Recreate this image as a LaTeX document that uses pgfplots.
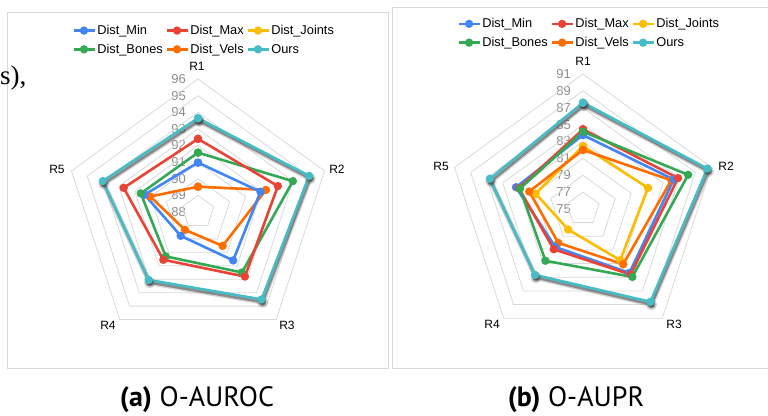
\documentclass[border=0pt]{standalone}
\usepackage{fontspec}
\setmainfont{Liberation Sans}
\newfontfamily\capfont{PT Sans}
\newfontfamily\serfont{Liberation Serif}
\usepackage{pgfplots}
\pgfplotsset{compat=1.18}
\usepackage{pgfplotstable}

\definecolor{cmin}{HTML}{4285F4}
\definecolor{cmax}{HTML}{EA4335}
\definecolor{cjoi}{HTML}{FBBC04}
\definecolor{cbon}{HTML}{34A853}
\definecolor{cvel}{HTML}{FF6D01}
\definecolor{cour}{HTML}{46BDC6}
\definecolor{gridc}{HTML}{D9D9D9}
\definecolor{tickc}{HTML}{8C8C8C}

% O-AUROC (axis 88..96)
\pgfplotstableread{
a    min   max   bones vels  ours
90   90.97 92.40 91.57 89.52 93.64
18   91.95 93.05 94.00 92.30 95.03
-54  91.60 92.80 92.50 90.52 94.50
-126 89.77 91.55 91.30 89.33 93.05
162  91.38 92.70 91.62 91.02 94.02
90   90.97 92.40 91.57 89.52 93.64
}\auroc

% O-AUPR (axis 75..91)
\pgfplotstableread{
a    min   max   joints bones vels  ours
90   83.77 84.44 82.46  84.16 82.00 87.60
18   86.30 86.84 83.10  88.10 86.00 90.50
-54  84.36 84.60 82.50  84.95 83.10 88.60
-126 80.57 80.90 78.00  82.58 79.97 84.66
162  83.35 83.00 80.90  82.85 81.70 86.60
90   83.77 84.44 82.46  84.16 82.00 87.60
}\aupr

\pgfplotstableread{
a    b
90   1
18   1
-54  1
-126 1
162  1
90   1
}\angs

\pgfplotsset{
  radar/.style={hide axis, clip=false, anchor=center},
  ser/.style={#1, line width=2.6pt, mark=*, mark size=2.8pt, mark options={solid,fill=#1}},
  ringl/.style={gridc, line width=0.8pt, forget plot},
  legimg/.style={legend image code/.code={%
      \draw[mark repeat=2, mark phase=2, ##1] plot coordinates {(0pt,0pt) (10.5pt,0pt) (21pt,0pt)};}},
  myleg/.style={legend columns=3, legimg,
     legend style={draw=none, fill=none, inner sep=0pt, font=\fontsize{12.8}{14}\selectfont,
       legend cell align=left, row sep=5pt,
       /tikz/every even column/.append style={column sep=1pt},
       nodes={inner sep=1.5pt}}},
}

\begin{document}
\begin{tikzpicture}[x=1pt,y=1pt]
\path[use as bounding box] (0,0) rectangle (768,415);
% frames
\draw[gridc, line width=0.9pt] (7,403) rectangle (388,47);
\draw[gridc, line width=0.9pt] (392,408) rectangle (775,47);
% stray text
\node[anchor=base west, inner sep=0pt, font=\serfont\fontsize{27}{30}\selectfont] at (0,330) {s),};

% tick labels
\foreach \v in {88,...,96}
  \node[anchor=east, inner sep=0pt, text=tickc, font=\fontsize{13}{13}\selectfont] at (186,{415-212+(\v-88)*16.625}) {\v};
\foreach \v in {75,77,...,91}
  \node[anchor=east, inner sep=0pt, text=tickc, font=\fontsize{13}{13}\selectfont] at (571,{415-209+(\v-75)*8.4375}) {\v};

% category labels
\begin{scope}[every node/.style={font=\fontsize{12}{12}\selectfont, inner sep=0pt}]
\node at (197,{415-66}) {R1};
\node at (337,{415-169}) {R2};
\node at (287,{415-325}) {R3};
\node at (108,{415-325}) {R4};
\node at (57,{415-169}) {R5};
\node at (583,{415-61}) {R1};
\node at (726,{415-166}) {R2};
\node at (674,{415-324}) {R3};
\node at (492,{415-324}) {R4};
\node at (441,{415-166}) {R5};
\end{scope}

% ---------- left radar ----------
\begin{axis}[radar, at={(198pt,203pt)}, x=16.625pt, y=16.625pt,
  xmin=-9, xmax=9, ymin=-9, ymax=9, myleg,
  legend style={at={(0.079,1.13)}, anchor=north west}]
\pgfplotsinvokeforeach{1,...,8}{
  \addplot[ringl] table[x expr={#1*cos(\thisrow{a})}, y expr={#1*sin(\thisrow{a})}]{\angs};
}
\addplot[forget plot, ser=cvel] table[x expr={(\thisrow{vels}-88)*cos(\thisrow{a})}, y expr={(\thisrow{vels}-88)*sin(\thisrow{a})}]{\auroc};
\addplot[forget plot, ser=cmin] table[x expr={(\thisrow{min}-88)*cos(\thisrow{a})}, y expr={(\thisrow{min}-88)*sin(\thisrow{a})}]{\auroc};
\addplot[forget plot, ser=cbon] table[x expr={(\thisrow{bones}-88)*cos(\thisrow{a})}, y expr={(\thisrow{bones}-88)*sin(\thisrow{a})}]{\auroc};
\addplot[forget plot, ser=cmax] table[x expr={(\thisrow{max}-88)*cos(\thisrow{a})}, y expr={(\thisrow{max}-88)*sin(\thisrow{a})}]{\auroc};
\addplot[forget plot, black!55, opacity=0.3, line width=5pt, mark=*, mark size=3pt, xshift=1pt, yshift=-2.8pt] table[x expr={(\thisrow{ours}-88)*cos(\thisrow{a})}, y expr={(\thisrow{ours}-88)*sin(\thisrow{a})}]{\auroc};
\addplot[forget plot, black!75, opacity=0.5, line width=2.6pt, mark=*, mark size=2.6pt, xshift=1pt, yshift=-2.6pt] table[x expr={(\thisrow{ours}-88)*cos(\thisrow{a})}, y expr={(\thisrow{ours}-88)*sin(\thisrow{a})}]{\auroc};
\addplot[forget plot, ser=cour] table[x expr={(\thisrow{ours}-88)*cos(\thisrow{a})}, y expr={(\thisrow{ours}-88)*sin(\thisrow{a})}]{\auroc};
\addlegendimage{ser=cmin}\addlegendentry{Dist\_Min}
\addlegendimage{ser=cmax}\addlegendentry{Dist\_Max}
\addlegendimage{ser=cjoi}\addlegendentry{Dist\_Joints}
\addlegendimage{ser=cbon}\addlegendentry{Dist\_Bones}
\addlegendimage{ser=cvel}\addlegendentry{Dist\_Vels}
\addlegendimage{ser=cour}\addlegendentry{Ours}
\end{axis}

% ---------- right radar ----------
\begin{axis}[radar, at={(583pt,206pt)}, x=8.4375pt, y=8.4375pt,
  xmin=-17, xmax=17, ymin=-17, ymax=17, myleg,
  legend style={at={(0.061,1.17)}, anchor=north west}]
\pgfplotsinvokeforeach{2,4,...,16}{
  \addplot[ringl] table[x expr={#1*cos(\thisrow{a})}, y expr={#1*sin(\thisrow{a})}]{\angs};
}
\addplot[forget plot, ser=cjoi] table[x expr={(\thisrow{joints}-75)*cos(\thisrow{a})}, y expr={(\thisrow{joints}-75)*sin(\thisrow{a})}]{\aupr};
\addplot[forget plot, ser=cvel] table[x expr={(\thisrow{vels}-75)*cos(\thisrow{a})}, y expr={(\thisrow{vels}-75)*sin(\thisrow{a})}]{\aupr};
\addplot[forget plot, ser=cmin] table[x expr={(\thisrow{min}-75)*cos(\thisrow{a})}, y expr={(\thisrow{min}-75)*sin(\thisrow{a})}]{\aupr};
\addplot[forget plot, ser=cmax] table[x expr={(\thisrow{max}-75)*cos(\thisrow{a})}, y expr={(\thisrow{max}-75)*sin(\thisrow{a})}]{\aupr};
\addplot[forget plot, ser=cbon] table[x expr={(\thisrow{bones}-75)*cos(\thisrow{a})}, y expr={(\thisrow{bones}-75)*sin(\thisrow{a})}]{\aupr};
\addplot[forget plot, black!55, opacity=0.3, line width=5pt, mark=*, mark size=3pt, xshift=1pt, yshift=-2.8pt] table[x expr={(\thisrow{ours}-75)*cos(\thisrow{a})}, y expr={(\thisrow{ours}-75)*sin(\thisrow{a})}]{\aupr};
\addplot[forget plot, black!75, opacity=0.5, line width=2.6pt, mark=*, mark size=2.6pt, xshift=1pt, yshift=-2.6pt] table[x expr={(\thisrow{ours}-75)*cos(\thisrow{a})}, y expr={(\thisrow{ours}-75)*sin(\thisrow{a})}]{\aupr};
\addplot[forget plot, ser=cour] table[x expr={(\thisrow{ours}-75)*cos(\thisrow{a})}, y expr={(\thisrow{ours}-75)*sin(\thisrow{a})}]{\aupr};
\addlegendimage{ser=cmin}\addlegendentry{Dist\_Min}
\addlegendimage{ser=cmax}\addlegendentry{Dist\_Max}
\addlegendimage{ser=cjoi}\addlegendentry{Dist\_Joints}
\addlegendimage{ser=cbon}\addlegendentry{Dist\_Bones}
\addlegendimage{ser=cvel}\addlegendentry{Dist\_Vels}
\addlegendimage{ser=cour}\addlegendentry{Ours}
\end{axis}

% captions
\node[anchor=base, font=\capfont\fontsize{28}{30}\selectfont, inner sep=0pt] at (197,9) {\textbf{(a)} O-AUROC};
\node[anchor=base, font=\capfont\fontsize{28}{30}\selectfont, inner sep=0pt] at (576,9) {\textbf{(b)} O-AUPR};
\end{tikzpicture}
\end{document}
